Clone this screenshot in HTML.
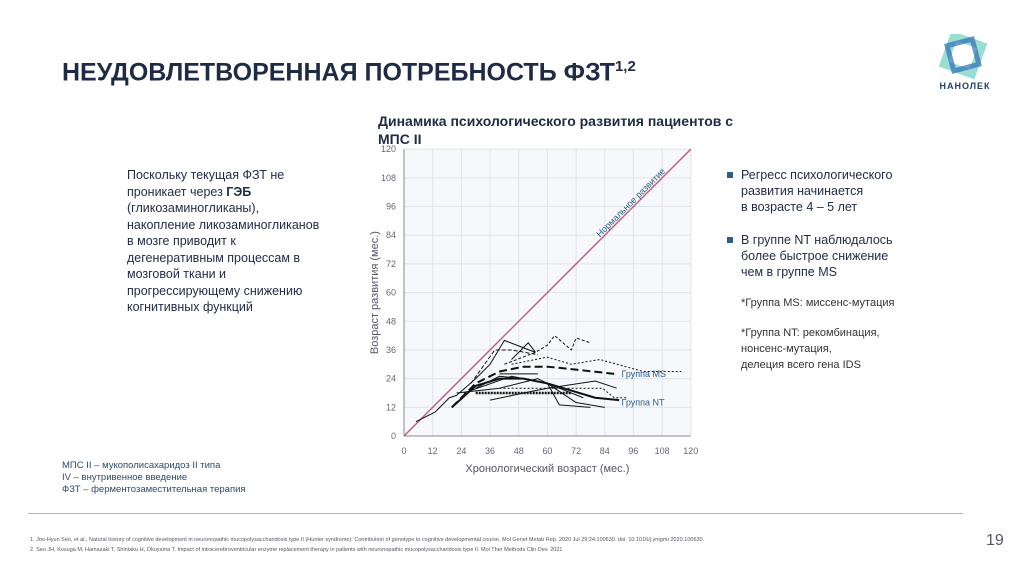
<!DOCTYPE html>
<html><head><meta charset="utf-8"><style>
body{margin:0;width:1024px;height:575px;background:#fff;font-family:"Liberation Sans",sans-serif;position:relative;overflow:hidden}
.a{position:absolute}
</style></head><body>
<div class="a" style="left:62px;top:58px;font-size:25px;font-weight:bold;color:#1f2a44">НЕУДОВЛЕТВОРЕННАЯ ПОТРЕБНОСТЬ ФЗТ<sup style="font-size:15px">1,2</sup></div>
<svg class="a" style="left:930px;top:34px" width="70" height="60">
<rect x="18" y="6" width="30" height="30" transform="rotate(20 33 21)" fill="none" stroke="#7fd6c8" stroke-width="8" opacity=".8"/>
<rect x="20" y="8" width="26" height="26" transform="rotate(-15 33 21)" fill="none" stroke="#2e6fb3" stroke-width="5" opacity=".7"/>
<text x="35" y="55" font-size="9" text-anchor="middle" fill="#1f3f6e" font-weight="bold" letter-spacing="1">НАНОЛЕК</text></svg>
<div class="a" style="left:378px;top:112px;font-size:14px;font-weight:bold;color:#1f2a44;line-height:18px">Динамика психологического развития пациентов с<br>МПС II</div>
<div class="a" style="left:127px;top:167px;font-size:12.5px;color:#1f2a44;line-height:16.5px;white-space:nowrap">Поскольку текущая ФЗТ не<br>проникает через <b>ГЭБ</b><br>(гликозаминогликаны),<br>накопление ликозаминогликанов<br>в мозге приводит к<br>дегенеративным процессам в<br>мозговой ткани и<br>прогрессирующему снижению<br>когнитивных функций</div>
<div class="a" style="left:727px;top:167px;font-size:12.5px;color:#1f2a44;line-height:16px;width:200px">
<div style="position:relative;padding-left:14px"><span style="position:absolute;left:0;top:5px;width:6px;height:6px;background:#2e5c8a"></span>Регресс психологического<br>развития начинается<br>в возрасте 4 – 5 лет</div>
<div style="position:relative;padding-left:14px;margin-top:17px"><span style="position:absolute;left:0;top:5px;width:6px;height:6px;background:#2e5c8a"></span>В группе NT наблюдалось<br>более быстрое снижение<br>чем в группе MS</div>
<div style="padding-left:14px;margin-top:15px;font-size:11px;color:#333">*Группа MS: миссенс-мутация</div>
<div style="padding-left:14px;margin-top:14px;font-size:11px;color:#333;line-height:16px">*Группа NT: рекомбинация,<br>нонсенс-мутация,<br>делеция всего гена IDS</div></div>
<div class="a" style="left:62px;top:460px;font-size:9.5px;color:#2e4a6a;line-height:12px">МПС II – мукополисахаридоз II типа<br>IV – внутривенное введение<br>ФЗТ – ферментозаместительная терапия</div>
<div class="a" style="left:28px;top:513px;width:935px;height:1px;background:#7fc9d6"></div>
<div class="a" style="left:30px;top:535px;font-size:5.5px;color:#556;line-height:10px">1. Joo-Hyun Seo, et al., Natural history of cognitive development in neuronopathic mucopolysaccharidosis type II (Hunter syndrome): Contribution of genotype to cognitive developmental course. Mol Genet Metab Rep. 2020 Jul 29;24:100630. doi: 10.1016/j.ymgmr.2020.100630.<br>2. Seo JH, Kosuga M, Hamazaki T, Shintaku H, Okuyama T. Impact of intracerebroventricular enzyme replacement therapy in patients with neuronopathic mucopolysaccharidosis type II. Mol Ther Methods Clin Dev. 2021</div>
<div class="a" style="left:986px;top:532px;font-size:16px;color:#556">19</div>
<svg id="ch" class="a" style="left:0;top:0" width="1024" height="575"></svg>
<script>
const ticks=[0,12,24,36,48,60,72,84,96,108,120];
const sThin1X=[5,13,19,22,30,36,42,55], sThin1Y=[6,10,16,17,24,30,40,35];
const sThin2X=[28,38,45,56], sThin2Y=[22,36,36,34];
const sThin3X=[45,52,55], sThin3Y=[32,39,35];
const sDash1X=[42,55,60,63,70,72,78], sDash1Y=[30,35,38,42,36,41,39];
const sDot1X=[45,60,70,82,100,116], sDot1Y=[30,33,30,32,27,27];
const msX=[20,30,40,50,60,70,88], msY=[12,22,27,29,29,28,26];
const ntX=[20,30,40,50,60,70,80,90], ntY=[12,21,24,24,22,19,16,15];
const hDotX=[30,48,70], hDotY=[18,18,18];
const sThin4X=[36,50,60,80,89], sThin4Y=[15,18,20,23,20];
const sThin5X=[22,40,56,60,65,78], sThin5Y=[18,20,24,22,13,12];
const sThin6X=[40,56], sThin6Y=[26,26];
const sThin7X=[25,45,60,72,84], sThin7Y=[18,25,22,14,12];
const sDot2X=[40,70,83,88,93], sDot2Y=[20,20,20,16,16];
const sThin8X=[30,40,50,60,75], sThin8Y=[20,25,24,22,16];
const X=v=>404+v*2.39, Y=v=>436-v*2.39;
const svg=document.getElementById('ch');const NS='http://www.w3.org/2000/svg';
function el(t,a,p){const e=document.createElementNS(NS,t);for(const k in a)e.setAttribute(k,a[k]);(p||svg).appendChild(e);return e;}
const bg=el('rect',{x:X(0),y:Y(120),width:X(120)-X(0),height:Y(0)-Y(120),fill:'#f6f8fb'});


ticks.forEach(t=>{
 const gx=el('line',{x1:X(t),x2:X(t),y1:Y(0),y2:Y(120),stroke:'#dfe4ec','stroke-width':1});
 
 
 const gy=el('line',{x1:X(0),x2:X(120),y1:Y(t),y2:Y(t),stroke:'#dfe4ec','stroke-width':1});
 
 
 const tx=el('text',{x:X(t),y:Y(0)+18,'font-size':9,fill:'#667','text-anchor':'middle'});tx.textContent=t;
 
 
 const ty=el('text',{x:X(0)-8,y:Y(t)+3,'font-size':9,fill:'#667','text-anchor':'end'});ty.textContent=t;
 
 
});
el('line',{x1:X(0),x2:X(120),y1:Y(0),y2:Y(0),stroke:'#888'});
el('line',{x1:X(0),x2:X(0),y1:Y(0),y2:Y(120),stroke:'#888'});
const xt=el('text',{x:X(60),y:472,'font-size':11,fill:'#556','text-anchor':'middle'});xt.textContent='Хронологический возраст (мес.)';


const yt=el('text',{x:0,y:0,'font-size':11,fill:'#556','text-anchor':'middle',transform:`translate(378,${Y(60)}) rotate(-90)`});yt.textContent='Возраст развития (мес.)';


const nl=el('line',{x1:X(0),y1:Y(0),x2:X(120),y2:Y(120),stroke:'#c0607a','stroke-width':1.5});


const nt=el('text',{x:0,y:0,'font-size':9,fill:'#2e5c8a',transform:`translate(${X(82)},${Y(83)}) rotate(-45)`});nt.textContent='Нормальное развитие';


function line(xs,ys,w,dash,name){
 const p=el('polyline',{points:xs.map((x,i)=>X(x)+','+Y(ys[i])).join(' '),fill:'none',stroke:'#111','stroke-width':w,'stroke-dasharray':dash||'none','stroke-linejoin':'round'});
 
 
}
line(sThin1X,sThin1Y,1,'','patient-line');
line(sThin2X,sThin2Y,1,'4 2','patient-line');
line(sThin3X,sThin3Y,1,'','patient-line');
line(sDash1X,sDash1Y,1,'3 2','patient-line');
line(sDot1X,sDot1Y,1,'2 2','patient-line');
line(sThin4X,sThin4Y,1,'','patient-line');
line(sThin5X,sThin5Y,1,'','patient-line');
line(sThin6X,sThin6Y,1,'','patient-line');
line(sThin7X,sThin7Y,1,'','patient-line');
line(sDot2X,sDot2Y,1,'2 2','patient-line');
line(sThin8X,sThin8Y,1,'','patient-line');
line(hDotX,hDotY,2.5,'2 1','patient-line');
line(msX,msY,2,'8 4','ms-group-line');
line(ntX,ntY,2,'','nt-group-line');
const lm=el('text',{x:X(91),y:Y(26)+3,'font-size':9,fill:'#2e5c8a'});lm.textContent='Группа MS';


const ln=el('text',{x:X(91),y:Y(14)+3,'font-size':9,fill:'#2e5c8a'});ln.textContent='Группа NT';


</script>
</body></html>
